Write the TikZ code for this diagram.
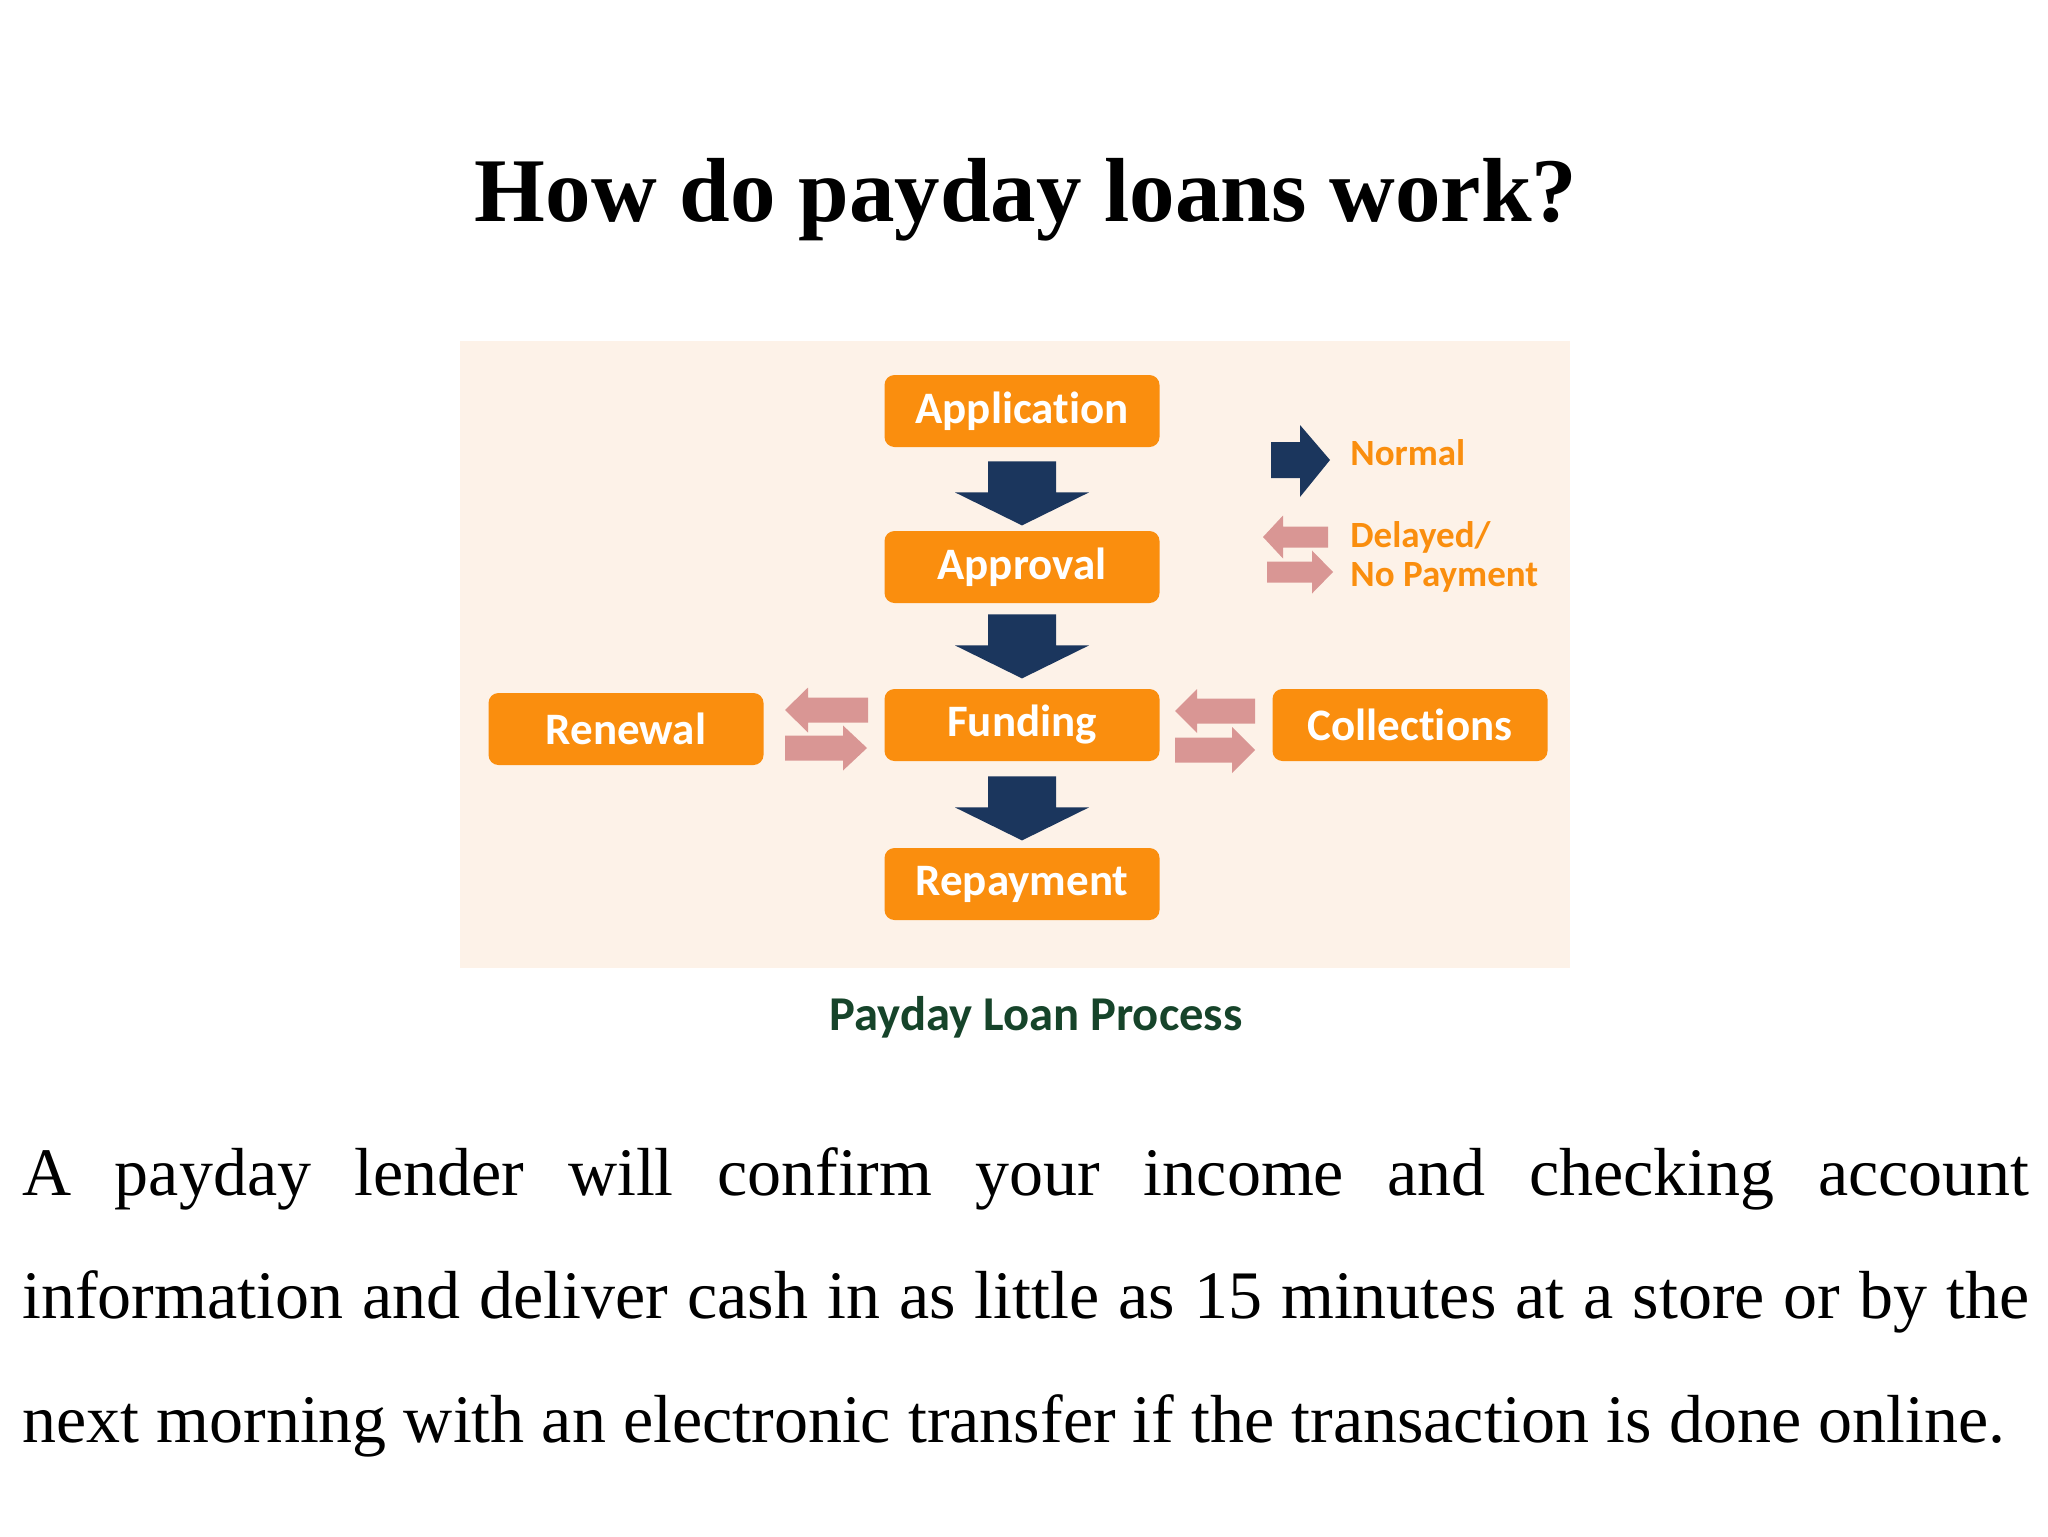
\documentclass[tikz,border=0pt]{standalone}
\usepackage{fontspec}
\setmainfont[RawFeature={-liga;-clig}]{Liberation Serif}
\newfontfamily\carlito[RawFeature={-liga;-clig;-dlig;-calt;-rlig}]{Carlito}
\definecolor{boxorange}{RGB}{250,142,14}
\definecolor{panelbg}{RGB}{253,242,232}
\definecolor{navyblk}{RGB}{27,54,93}
\definecolor{pinkarr}{RGB}{217,150,148}
\definecolor{capgreen}{RGB}{22,68,42}
\tikzset{
  stagebox/.style={fill=boxorange, rounded corners=5pt, minimum width=137.5pt,
    minimum height=36pt, inner sep=0pt, text=white,
    font=\carlito\bfseries\fontsize{22.5}{27}\selectfont},
  legtext/.style={anchor=base west, inner sep=0pt, text=boxorange,
    font=\carlito\bfseries\fontsize{18.5}{22}\selectfont},
  bodyline/.style={anchor=base west, inner sep=0pt, font=\fontsize{34}{40}\selectfont},
  pics/downblk/.style={code={
    \fill[navyblk] (-34,0) -- (34,0) -- (34,31) -- (67,31) -- (0,64) -- (-67,31) -- (-34,31) -- cycle;}},
}
% tip x, tip y, direction (1 = points left, -1 = points right), length, head length, head half-height, shaft half-height
\newcommand\pinkblk[7]{%
  \fill[pinkarr, shift={(#1,#2)}, xscale=#3] (0,0) -- (#5,-#6) -- (#5,-#7) -- (#4,-#7)
     -- (#4,#7) -- (#5,#7) -- (#5,#6) -- cycle;}
\begin{document}
\begin{tikzpicture}[x=0.5pt, y=-0.5pt]
\useasboundingbox (0,0) rectangle (2048,1536);
\fill[white] (0,0) rectangle (2048,1536);

% title
\node[anchor=base, inner sep=0pt, font=\bfseries\fontsize{45.5}{50}\selectfont] (title) at (1026,221) {How do payday loans work?};

% panel
\fill[panelbg] (460,341) rectangle (1570,968);

% stages
\node[stagebox] (app)  at (1022,411) {Application};
\node[stagebox] (appr) at (1022,567) {Approval};
\node[stagebox] (fund) at (1022,725) {Funding};
\node[stagebox] (rep)  at (1022,884) {Repayment};
\node[stagebox] (ren)  at (626,729)  {Renewal};
\node[stagebox] (col)  at (1410,725) {Collections};

% normal flow arrows
\path (app.south)  ++(0,14) pic {downblk};
\path (appr.south) ++(0,11) pic {downblk};
\path (fund.south) ++(0,15) pic {downblk};

% delayed / no payment arrows
\pinkblk{785}{710}{1}{83}{23}{22.5}{12.5}
\pinkblk{867}{748}{-1}{82}{24}{22.5}{12.5}
\pinkblk{1175}{711}{1}{80}{22}{22}{12.5}
\pinkblk{1255}{750}{-1}{80}{23}{23}{12.5}

% legend
\fill[navyblk] (1271,442) -- (1300,442) -- (1300,425) -- (1330,460) -- (1300,497) -- (1300,478) -- (1271,478) -- cycle;
\node[legtext] (lnormal) at (1350,465) {Normal};
\pinkblk{1263}{537}{1}{65}{20}{21.5}{10.5}
\pinkblk{1333}{572}{-1}{66}{21}{21.5}{10.5}
\node[legtext] (ldelay) at (1350,547) {Delayed/};
\node[legtext] (lnopay) at (1350,586) {No Payment};

% caption
\node[anchor=base, inner sep=0pt, text=capgreen, font=\carlito\bfseries\fontsize{24.3}{29}\selectfont] (cap) at (1036,1030) {Payday Loan Process};

% body text
\node[bodyline] (l1) at (22,1195) {\makebox[1003.5pt][s]{A payday lender will confirm your income and checking account}};
\node[bodyline] (l2) at (22,1318) {\makebox[1003.5pt][s]{information and deliver cash in as little as 15 minutes at a store or by the}};
\node[bodyline] (l3) at (22,1442) {next morning with an electronic transfer if the transaction is done online.};
\end{tikzpicture}
\end{document}
